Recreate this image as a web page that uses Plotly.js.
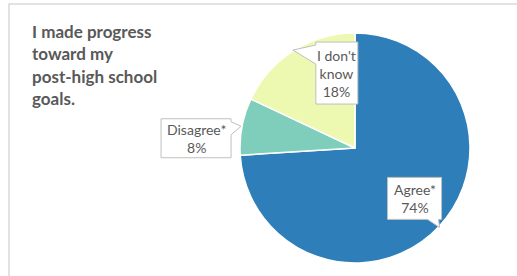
<!DOCTYPE html>
<html><head><meta charset="utf-8">
<script src="https://cdn.plot.ly/plotly-3.0.1.min.js"></script>
<style>html,body{margin:0;padding:0;background:#fff}</style>
</head><body><div id="chart" style="width:517px;height:276px"></div>
<script>
// ---- data ----
const categories = ["Agree*", "Disagree*", "I don't<br>know"];
const values = [74, 8, 18];
const colors = ["#2e7fb9", "#7fcdbb", "#edf8b1"];
const titleLines = ["I made progress", "toward my", "post-high school", "goals."];

// ---- layout constants (px) ----
const W = 517, H = 276;
const cx = 355, cy = 148, R = 115;
const calloutStyle = [
  {dx: -25, dy: -29, w: 54, h: 42, side: "bottom", a: 40, b: 51},
  {dx: -45, dy: 12, w: 70, h: 39, side: "right", a: 3, b: 16},
  {dx: 44, dy: 23, w: 42, h: 62, side: "left", a: 3, b: 22}
];
const textColor = "#595959";
const px = x => x / W;
const py = y => 1 - y / H;

const total = values.reduce((s, v) => s + v, 0);
let cum = 0;
const shapes = [{
  type: "rect", xref: "paper", yref: "paper",
  x0: px(9), x1: 1.2, y0: -0.2, y1: py(4),
  line: {color: "#d9d9d9", width: 1.5}, fillcolor: "rgba(0,0,0,0)", layer: "below"
}];
const annotations = [];

values.forEach((v, i) => {
  const mid = (cum + v / 2) / total * 2 * Math.PI;
  cum += v;
  const tx = cx + (R + 1) * Math.sin(mid);
  const ty = cy - (R + 1) * Math.cos(mid);
  const s = calloutStyle[i];
  const bx = tx + s.dx, by = ty + s.dy;
  const L = bx - s.w / 2, Rr = bx + s.w / 2, T = by - s.h / 2, B = by + s.h / 2;
  const pts = [[L, T], [Rr, T]];
  if (s.side === "right") pts.push([Rr, T + s.a], [tx, ty], [Rr, T + s.b]);
  pts.push([Rr, B]);
  if (s.side === "bottom") pts.push([L + s.b, B], [tx, ty], [L + s.a, B]);
  pts.push([L, B]);
  if (s.side === "left") pts.push([L, T + s.b], [tx, ty], [L, T + s.a]);
  const path = pts.map((p, k) => (k ? "L" : "M") + px(p[0]).toFixed(5) + "," + py(p[1]).toFixed(5)).join(" ") + " Z";
  shapes.push({type: "path", xref: "paper", yref: "paper", path: path,
    fillcolor: "#ffffff", line: {color: "#bfbfbf", width: 1}, layer: "above"});
  annotations.push({
    xref: "paper", yref: "paper", x: px(bx), y: py(by),
    xanchor: "center", yanchor: "middle", showarrow: false,
    text: categories[i] + "<br>" + Math.round(v / total * 100) + "%",
    font: {family: "Lato, 'Noto Sans', sans-serif", size: 14, color: textColor},
    align: "center"
  });
});

titleLines.forEach((t, i) => {
  annotations.push({
    xref: "paper", yref: "paper", x: px(30), y: py(32 + i * 22),
    xanchor: "left", yanchor: "middle", showarrow: false, text: "<b>" + t + "</b>",
    font: {family: "Lato, 'Noto Sans', sans-serif", size: 17, color: textColor}
  });
});

const trace = {
  type: "pie", labels: categories, values: values, sort: false,
  direction: "clockwise", rotation: 0,
  marker: {colors: colors, line: {color: "#ffffff", width: 1.5}},
  textinfo: "none", hoverinfo: "none", showlegend: false,
  domain: {x: [px(cx - R), px(cx + R)], y: [py(cy + R), py(cy - R)]}
};

Plotly.newPlot("chart", [trace], {
  width: W, height: H, margin: {l: 0, r: 0, t: 0, b: 0},
  paper_bgcolor: "#ffffff", plot_bgcolor: "#ffffff",
  shapes: shapes, annotations: annotations, showlegend: false
}, {staticPlot: true, displayModeBar: false});
</script></body></html>
